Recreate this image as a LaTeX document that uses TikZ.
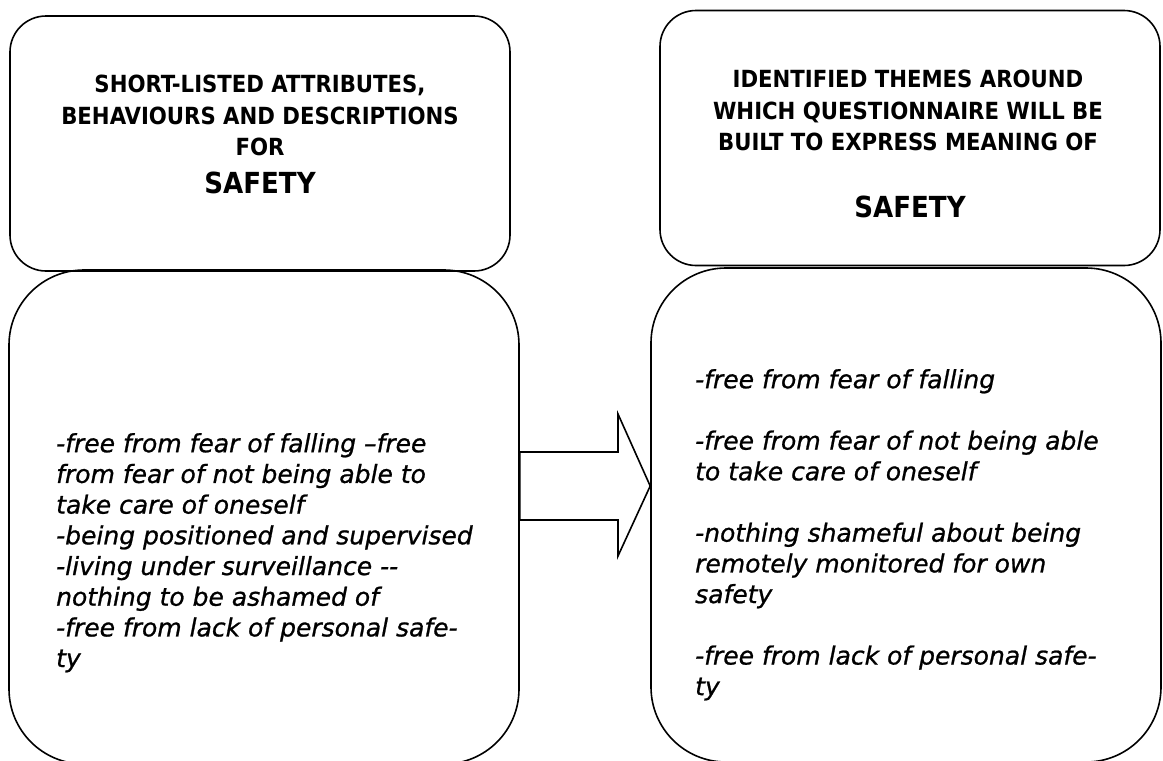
\documentclass[tikz,border=0pt]{standalone}
\usepackage{fontspec}
\setmainfont{DejaVu Sans Condensed}[ItalicFont={DejaVu Sans Oblique},ItalicFeatures={FakeBold=0.9}]
\usetikzlibrary{positioning,calc}
\tikzstyle{headbox}=[draw,line width=1.6pt,rounded corners=36pt,minimum width=500pt,minimum height=255pt]
\tikzstyle{listbox}=[draw,line width=1.6pt,rounded corners=75pt,minimum width=510pt,minimum height=494pt]

\begin{document}
\begin{tikzpicture}[
    x=1pt,y=-1pt,
    heading/.style={
        align=center,
        inner sep=0pt,
        anchor=north,
        font=\bfseries\fontsize{23.6}{31.5}\selectfont
    },
    topic/.style={
        inner sep=0pt,
        anchor=base,
        font=\bfseries\fontsize{29}{36}\selectfont
    },
    items/.style={
        align=left,
        inner sep=0pt,
        anchor=north west,
        font=\itshape\fontsize{25}{30.7}\selectfont
    }
    ]
    \useasboundingbox (0,0) rectangle (1163,761);
    \node[headbox] at (260,143.5) 
        (attrbox) {};
    \node[headbox] at (910,138) 
        (themebox) {};
    \node[listbox] at (264,517) 
        (attrbody) {};
    \node[listbox] at (906,515) 
        (themebody) {};
    \node[heading] at (260,75) 
        (attrhead) {SHORT-LISTED ATTRIBUTES,\\BEHAVIOURS AND DESCRIPTIONS\\FOR};
    \node[topic] at (260,193) 
        (attrtopic) {SAFETY};
    \node[heading] at (908,70) 
        (themehead) {IDENTIFIED THEMES AROUND\\WHICH QUESTIONNAIRE WILL BE\\BUILT TO EXPRESS MEANING OF};
    \node[topic] at (910,217) 
        (themetopic) {SAFETY};
    \node[items] at (56,433) 
        (attrlist) {-free from fear of falling --free\\from fear of not being able to\\take care of oneself\\-being positioned and supervised\\-living under surveillance -{}-\\nothing to be ashamed of\\-free from lack of personal safe-\\ty};
    \node[items] at (695,369) 
        (themelist) {-free from fear of falling\\[30.7pt]-free from fear of not being able\\to take care of oneself\\[30.7pt]-nothing shameful about being\\remotely monitored for own\\safety\\[30.7pt]-free from lack of personal safe-\\ty};
    \draw[line width=1.6pt] (attrbody.east |- 0,452) -- (618,452) -- (618,414) 
        -- (themebody.west |- 0,486) -- (618,556) -- (618,520) -- (attrbody.east |- 0,520) -- cycle;
\end{tikzpicture}
\end{document}
